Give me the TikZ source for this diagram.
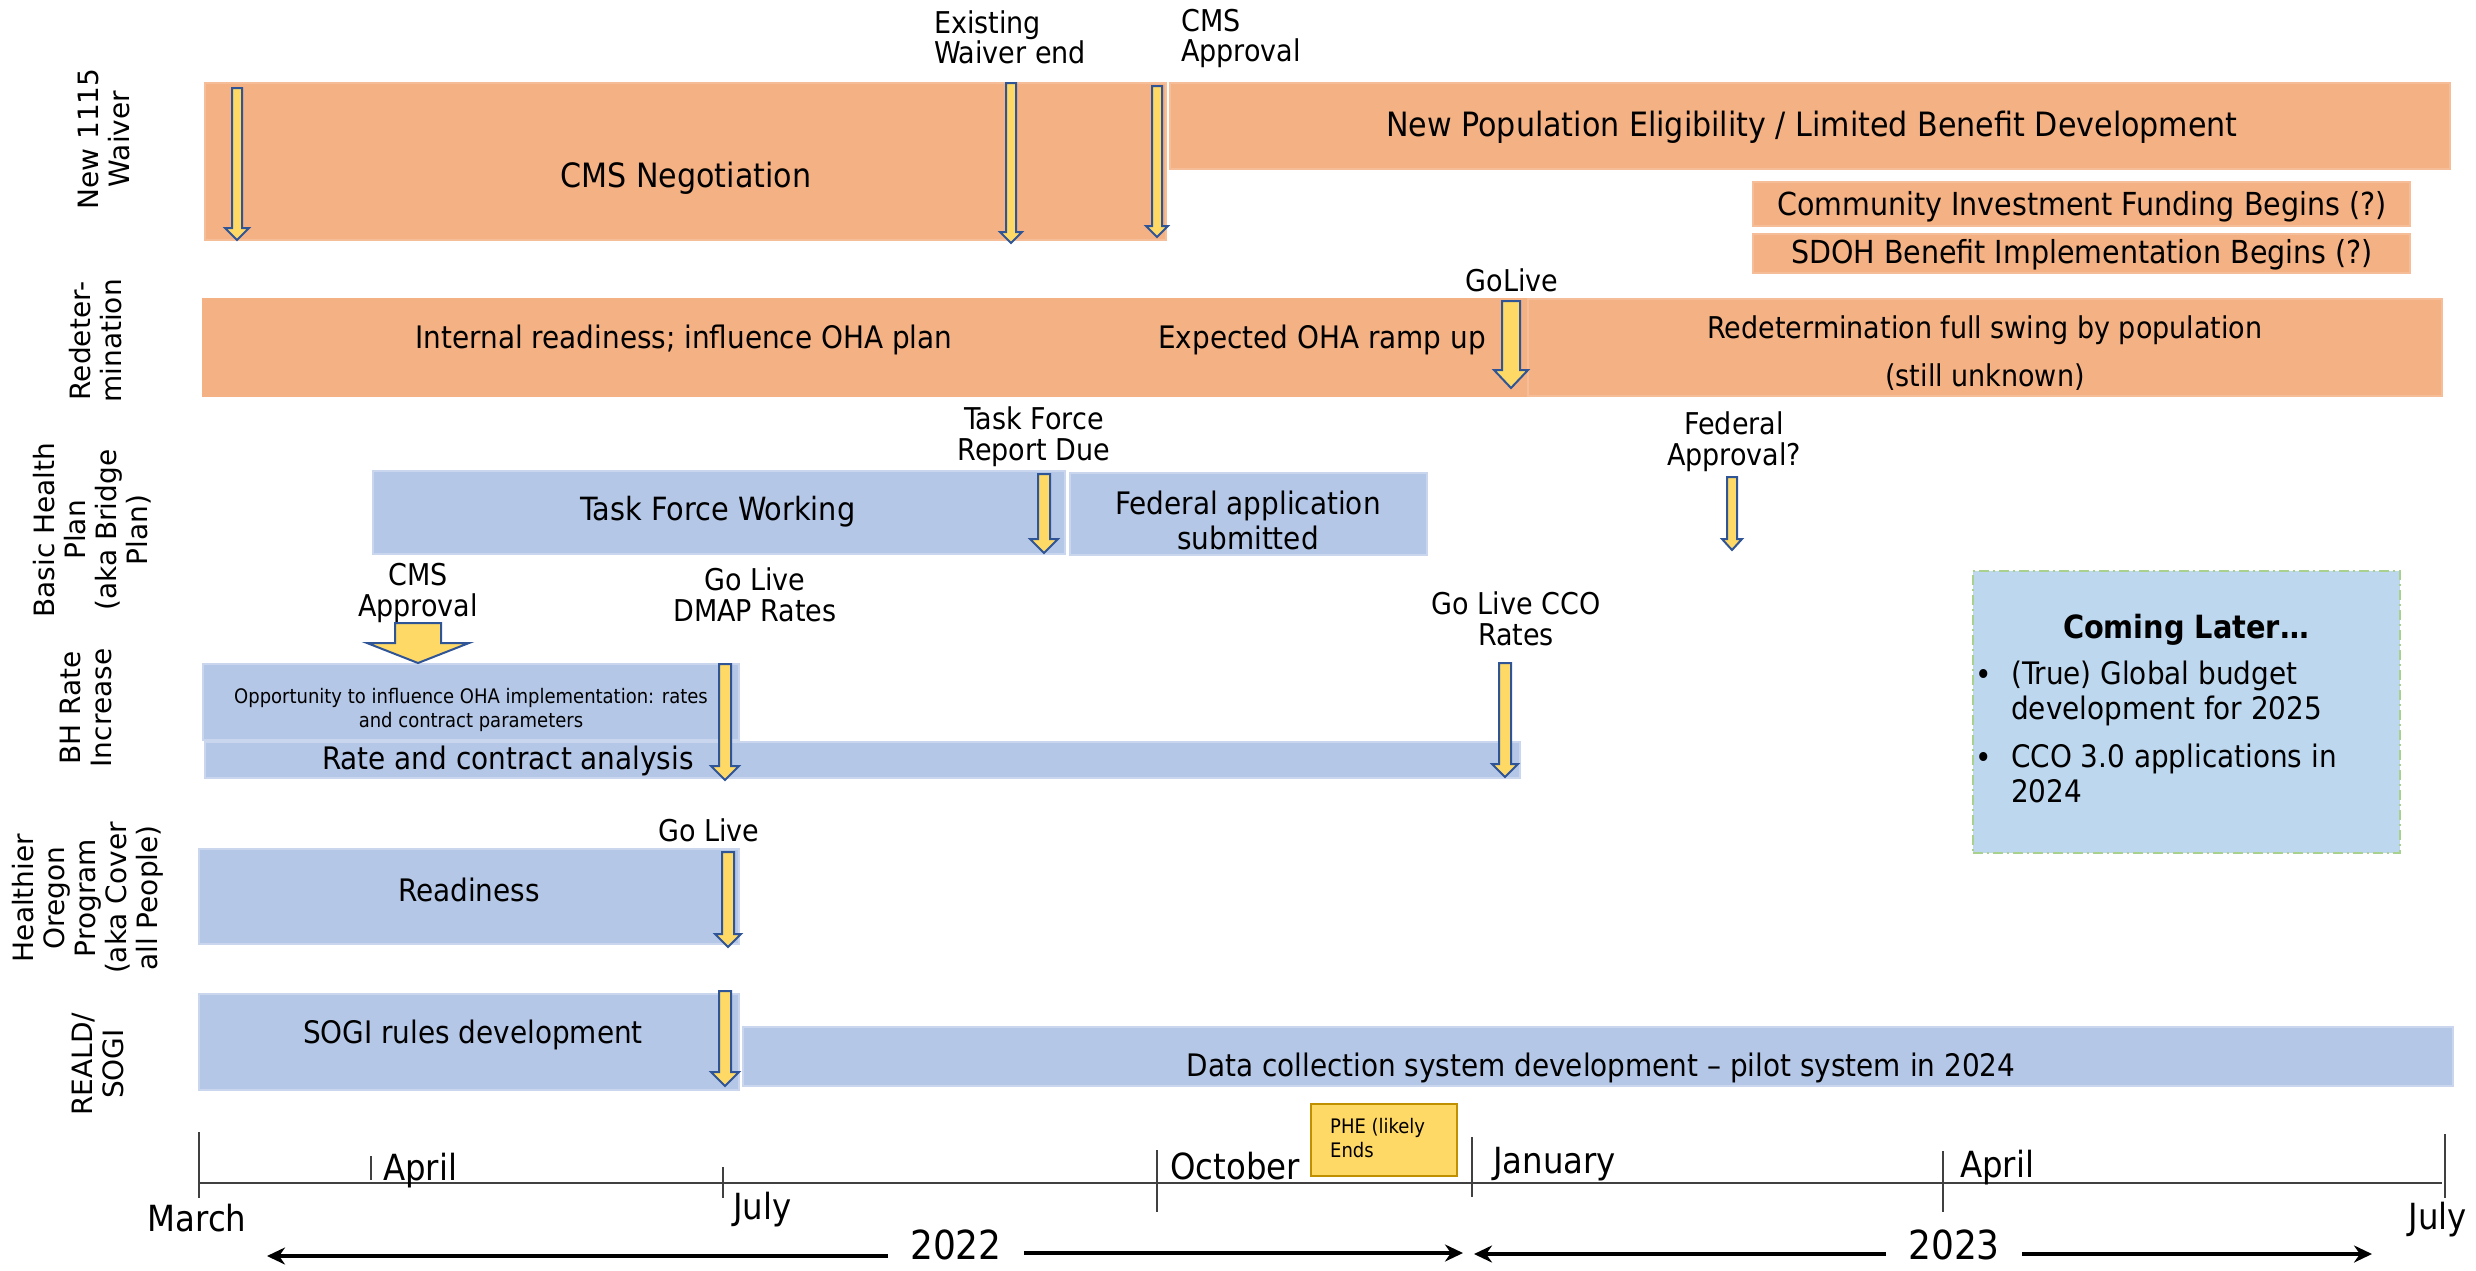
\documentclass[tikz,border=0pt]{standalone}
\usepackage{fontspec}
\setmainfont{DejaVu Sans Condensed}
\newfontfamily\lblfont{DejaVu Sans}
\usetikzlibrary{arrows.meta,fit}
\definecolor{orng}{HTML}{F4B183}
\definecolor{orngedge}{HTML}{F6BE98}
\definecolor{blu}{HTML}{B4C7E7}
\definecolor{bluedge}{HTML}{C9D6EE}
\definecolor{ylw}{HTML}{FFD966}
\definecolor{arrblue}{HTML}{2F5597}
\definecolor{later}{HTML}{BDD7EE}
\definecolor{latedge}{HTML}{A9D18E}
\definecolor{axisc}{HTML}{404040}
\definecolor{pheedge}{HTML}{BF9000}
\tikzset{
  obox/.style={fill=orng, draw=orngedge, line width=1.2pt, inner sep=0pt},
  bbox/.style={fill=blu, draw=bluedge, line width=1.5pt, inner sep=0pt},
  laterbox/.style={fill=later, draw=latedge, line width=2.5pt, dash pattern=on 10pt off 4pt on 2pt off 4pt, inner sep=0pt},
  phebox/.style={fill=ylw, draw=pheedge, line width=1.5pt, inner sep=0pt},
  lbl/.style={font=\lblfont\fontsize{28}{31}\selectfont, align=center, rotate=90, inner sep=0pt},
  btxt/.style={font=\fontsize{31}{35}\selectfont, inner sep=0pt, align=center},
  bigtxt/.style={font=\fontsize{33.5}{36}\selectfont, inner sep=0pt, align=center},
  mtxt/.style={font=\fontsize{30}{30}\selectfont, inner sep=0pt, align=center},
  ctxt/.style={font=\fontsize{31.7}{34}\selectfont, inner sep=0pt, align=center},
  stxt/.style={font=\fontsize{20}{24}\selectfont, inner sep=0pt, align=center},
  mon/.style={font=\fontsize{36}{36}\selectfont, inner sep=0pt},
  yr/.style={font=\fontsize{40}{40}\selectfont, inner sep=0pt, inner xsep=22pt},
  markarr/.style={fill=ylw, draw=arrblue, line width=2pt, line join=miter},
  tickline/.style={draw=axisc, line width=1.2pt},
  axisline/.style={draw=axisc, line width=2.5pt},
  yrarrow/.style={line width=3.5pt, -{Stealth[length=18pt,width=17pt]}},
}
% x, ytop, ybot, halfshaft, halfhead, headlen
\newcommand\markarrow[6]{%
  \filldraw[markarr] (#1-#4,#2) -- (#1+#4,#2) -- (#1+#4,#3-#6) -- (#1+#5,#3-#6) -- (#1,#3) -- (#1-#5,#3-#6) -- (#1-#4,#3-#6) -- cycle;}
\begin{document}
\begin{tikzpicture}[x=1pt,y=-1pt]
\useasboundingbox (0,0) rectangle (2476,1270);

% ---------- row labels ----------
\node[lbl] (l1) at (104,139) {New 1115\\Waiver};
\node[lbl] (l2) at (96,341) {Redeter-\\mination};
\node[lbl] (l3) at (92,530) {Basic Health\\Plan\\(aka Bridge\\Plan)};
\node[lbl] (l4) at (86,708) {BH Rate\\Increase};
\node[lbl] (l5) at (88,898) {Healthier\\Oregon\\Program\\(aka Cover\\all People)};
\node[lbl] (l6) at (98,1064) {REALD/\\SOGI};

% ---------- New 1115 Waiver ----------
\node[obox, fit={(205,83) (1166,240)}] (neg) {};
\node[obox, fit={(1170,83) (2450,169)}] (newpop) {};
\node[obox, fit={(1753,182) (2410,226)}] (cif) {};
\node[obox, fit={(1753,234) (2410,273)}] (sdoh) {};
\node[bigtxt] (tneg) at (686,178) {CMS Negotiation};
\node[bigtxt] (tnewpop) at (1812,127) {New Population Eligibility / Limited Benefit Development};
\node[ctxt] (tcif) at (2082,207) {Community Investment Funding Begins (?)};
\node[ctxt] (tsdoh) at (2082,255) {SDOH Benefit Implementation Begins (?)};
\node[mtxt, align=left] (exw) at (1010,37) {Existing\\Waiver end};
\node[mtxt, align=left] (cmsa) at (1241,38) {CMS\\Approval};
\markarrow{237}{88}{240}{5}{12}{12}
\markarrow{1011}{83}{243}{5}{11}{11}
\markarrow{1157}{86}{237}{5}{11}{11}

% ---------- Redetermination ----------
\node[obox, draw=orng, fit={(203,299) (1146,396)}] (ird) {};
\node[obox, draw=orng, fit={(1146,299) (1526,396)}] (oha) {};
\node[obox, fit={(1528,299) (2442,396)}] (rfull) {};
\node[btxt] (tird) at (684,340) {Internal readiness; influence OHA plan};
\node[btxt] (toha) at (1322,340) {Expected OHA ramp up};
\node[btxt, font=\fontsize{30}{48}\selectfont] (trfull) at (1985,353) {Redetermination full swing by population\\(still unknown)};
\node[mtxt] (golive1) at (1512,280) {GoLive};
\markarrow{1511}{301}{388}{9}{17}{18}

% ---------- Basic Health Plan ----------
\node[bbox, fit={(373,471) (1065,554)}] (tfw) {};
\node[bbox, fit={(1070,473) (1427,555)}] (fedapp) {};
\node[btxt, font=\fontsize{32}{35}\selectfont] (ttfw) at (718,512) {Task Force Working};
\node[btxt, font=\fontsize{31}{35}\selectfont] (tfedapp) at (1248,520) {Federal application\\submitted};
\node[mtxt, font=\fontsize{30}{31}\selectfont] (tfrd) at (1034,437) {Task Force\\Report Due};
\node[mtxt, font=\fontsize{30}{31}\selectfont] (fedq) at (1734,442) {Federal\\Approval?};
\markarrow{1044}{474}{553}{6}{14}{14}
\markarrow{1732}{477}{550}{5}{10}{11}

% ---------- BH Rate Increase ----------
\node[bbox, fit={(203,664) (739,740)}] (opp) {};
\node[bbox, fit={(205,742) (1520,778)}] (rca) {};
\node[stxt] (topp) at (471,710) {Opportunity to influence OHA implementation: rates\\and contract parameters};
\node[btxt] (trca) at (508,761) {Rate and contract analysis};
\node[mtxt, font=\fontsize{30}{31}\selectfont] (cmsa2) at (418,593) {CMS\\Approval};
\node[mtxt, font=\fontsize{30}{31}\selectfont] (dmap) at (755,595) {Go Live\\DMAP Rates};
\node[mtxt, font=\fontsize{30}{31}\selectfont] (ccor) at (1516,619) {Go Live CCO\\Rates};
\filldraw[markarr] (395,623) -- (441,623) -- (441,643) -- (469,643) -- (418,663) -- (367,643) -- (395,643) -- cycle;
\markarrow{725}{664}{780}{6}{14}{14}
\markarrow{1505}{663}{777}{6}{13}{13}

% ---------- Coming Later ----------
\node[laterbox, fit={(1973,571) (2400,853)}] (later) {};
\node[btxt, font=\bfseries\fontsize{32}{36}\selectfont] (tlater) at (2186,630) {Coming Later\ldots};
\node[btxt, anchor=west] (bul1) at (1975,677) {•};
\node[btxt, anchor=west] (bul2) at (1975,760) {•};
\node[btxt, align=left, anchor=north west, font=\fontsize{31}{35}\selectfont] (it1) at (2011,661) {(True) Global budget\\development for 2025};
\node[btxt, align=left, anchor=north west, font=\fontsize{31}{35}\selectfont] (it2) at (2011,744) {CCO 3.0 applications in\\2024};

% ---------- Healthier Oregon ----------
\node[bbox, fit={(199,849) (739,944)}] (ready) {};
\node[btxt] (tready) at (469,890) {Readiness};
\node[mtxt] (golive2) at (709,830) {Go Live};
\markarrow{728}{852}{947}{6}{13}{13}

% ---------- REALD/SOGI ----------
\node[bbox, fit={(199,994) (739,1090)}] (sogi) {};
\node[bbox, fit={(743,1027) (2453,1086)}] (datac) {};
\node[btxt] (tsogi) at (473,1035) {SOGI rules development};
\node[btxt] (tdatac) at (1601,1068) {Data collection system development -- pilot system in 2024};
\markarrow{725}{991}{1086}{6}{14}{14}

% ---------- timeline ----------
\coordinate (ax0) at (199,1183);
\coordinate (ax1) at (2442,1183);
\draw[axisline] (ax0) -- (ax1);
\draw[tickline] (199,1132) -- (199,1198);
\draw[tickline] (371,1156) -- (371,1180);
\draw[tickline] (723,1167) -- (723,1198);
\draw[tickline] (1157,1150) -- (1157,1212);
\draw[tickline] (1472,1137) -- (1472,1197);
\draw[tickline] (1943,1151) -- (1943,1212);
\draw[tickline] (2445,1134) -- (2445,1198);
\node[mon] (mmar) at (197,1218) {March};
\node[mon, anchor=west] (mapr) at (383,1171) {April};
\node[mon, anchor=west] (mjul) at (733,1210) {July};
\node[mon, anchor=west] (moct) at (1170,1166) {October};
\node[phebox, fit={(1311,1104) (1457,1176)}] (phe) {};
\node[stxt, align=left, anchor=north west] (tphe) at (1330,1118) {PHE (likely\\Ends};
\node[mon, anchor=west] (mjan) at (1493,1164) {January};
\node[mon, anchor=west] (mapr2) at (1960,1168) {April};
\node[mon] (mjul2) at (2438,1220) {July};

\node[yr] (y22) at (956,1245) {2022};
\node[yr] (y23) at (1954,1245) {2023};
\coordinate (a22l) at (267,1256);
\coordinate (a22r) at (1463,1253);
\coordinate (a23l) at (1474,1254);
\coordinate (a23r) at (2372,1254);
\draw[yrarrow] (y22.west |- a22l) -- (a22l);
\draw[yrarrow] (y22.east |- a22r) -- (a22r);
\draw[yrarrow] (y23.west |- a23l) -- (a23l);
\draw[yrarrow] (y23.east |- a23r) -- (a23r);
\end{tikzpicture}
\end{document}
